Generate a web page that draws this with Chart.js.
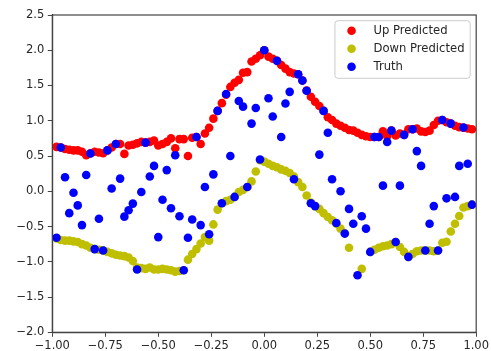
<!DOCTYPE html>
<html>
<head>
<meta charset="utf-8">
<script src="https://cdn.jsdelivr.net/npm/chart.js@4/dist/chart.umd.min.js"></script>
<style>
  html, body { margin: 0; padding: 0; background: #ffffff; }
  canvas { display: block; }
</style>
</head>
<body>
<canvas id="chart" width="491" height="351"></canvas>
<script>
// Sample positions shared by all three series
const xValues = [
  -0.98, -0.96, -0.94, -0.92, -0.90, -0.88, -0.86, -0.84, -0.82, -0.80,
  -0.78, -0.76, -0.74, -0.72, -0.70, -0.68, -0.66, -0.64, -0.62, -0.60,
  -0.58, -0.56, -0.54, -0.52, -0.50, -0.48, -0.46, -0.44, -0.42, -0.40,
  -0.38, -0.36, -0.34, -0.32, -0.30, -0.28, -0.26, -0.24, -0.22, -0.20,
  -0.18, -0.16, -0.14, -0.12, -0.10, -0.08, -0.06, -0.04, -0.02, 0.00,
  0.02, 0.04, 0.06, 0.08, 0.10, 0.12, 0.14, 0.16, 0.18, 0.20,
  0.22, 0.24, 0.26, 0.28, 0.30, 0.32, 0.34, 0.36, 0.38, 0.40,
  0.42, 0.44, 0.46, 0.48, 0.50, 0.52, 0.54, 0.56, 0.58, 0.60,
  0.62, 0.64, 0.66, 0.68, 0.70, 0.72, 0.74, 0.76, 0.78, 0.80,
  0.82, 0.84, 0.86, 0.88, 0.90, 0.92, 0.94, 0.96, 0.98
];

// Upper branch of the model prediction
const upPredicted = [
  0.63, 0.62, 0.60, 0.59, 0.58, 0.58, 0.56, 0.51, 0.54, 0.56,
  0.55, 0.54, 0.58, 0.62, 0.67, 0.67, 0.53, 0.65, 0.66, 0.68,
  0.70, 0.69, 0.70, 0.72, 0.65, 0.67, 0.70, 0.75, 0.61, 0.74,
  0.74, 0.50, 0.76, 0.77, 0.67, 0.82, 0.90, 1.03, 1.14, 1.25,
  1.37, 1.48, 1.54, 1.58, 1.68, 1.69, 1.84, 1.88, 1.93, 2.00,
  1.91, 1.88, 1.85, 1.79, 1.74, 1.69, 1.67, 1.66, 1.57, 1.43,
  1.34, 1.27, 1.21, 1.14, 1.05, 1.01, 0.96, 0.93, 0.90, 0.87,
  0.86, 0.83, 0.80, 0.78, 0.77, 0.77, 0.77, 0.85, 0.78, 0.86,
  0.79, 0.82, 0.80, 0.88, 0.88, 0.89, 0.85, 0.84, 0.86, 0.94,
  1.00, 1.01, 0.98, 0.96, 0.93, 0.91, 0.90, 0.89, 0.88
];

// Lower branch of the model prediction (null = no point)
const downPredicted = [
  -0.67, -0.69, -0.70, -0.70, -0.71, -0.72, -0.75, -0.77, -0.80, -0.82,
  -0.83, -0.84, -0.86, -0.88, -0.90, -0.91, -0.92, -0.94, -0.99, -1.08,
  -1.09, -1.10, -1.08, -1.11, -1.11, -1.10, -1.11, -1.12, -1.14, -1.13,
  -1.12, -0.97, -0.89, -0.82, -0.74, -0.65, -0.70, -0.47, -0.26, -0.17,
  -0.14, -0.12, -0.08, -0.01, 0.02, 0.06, 0.14, 0.28, 0.44, 0.42,
  0.39, 0.36, 0.34, 0.31, 0.29, 0.26, 0.21, 0.13, 0.06, -0.06,
  -0.16, -0.21, -0.25, -0.31, -0.365, -0.41, -0.46, -0.53, -0.60, -0.80,
  null, null, -1.10, null, -0.86, -0.83, -0.80, -0.78, -0.77, -0.75,
  -0.72, -0.79, -0.86, -0.93, -0.89, -0.85, -0.84, -0.84, -0.84, -0.85,
  -0.84, -0.73, -0.715, -0.57, -0.46, -0.35, -0.23, -0.21, -0.19
];

// Observed values
const truth = [
  -0.66, 0.62, 0.20, -0.31, -0.02, -0.20, -0.48, 0.23, 0.535, -0.82,
  -0.39, -0.84, 0.58, 0.04, 0.67, 0.18, -0.36, -0.27, -0.175, -1.11,
  -0.01, 0.69, 0.21, 0.36, -0.65, -0.12, 0.30, -0.24, 0.51, -0.355,
  -1.12, -0.66, -0.40, 0.77, -0.48, 0.06, -0.61, 0.24, 1.14, -0.17,
  1.38, 0.50, -0.08, 1.28, 1.20, 0.06, 0.96, 1.18, 0.45, 2.00,
  1.32, 1.06, 1.85, 0.77, 1.245, 1.41, 0.17, 1.66, 1.57, 1.425,
  -0.17, -0.21, 0.52, 1.14, 0.83, 0.17, -0.45, 0.00, -0.60, -0.25,
  -0.46, -1.19, -0.355, -0.53, -0.86, 0.77, 0.77, 0.08, 0.70, 0.86,
  -0.72, 0.08, 0.80, -0.93, 0.88, 0.57, 0.36, -0.84, -0.46, -0.21,
  -0.84, 1.01, -0.10, 0.96, -0.08, 0.36, 0.905, 0.39, -0.19
];

const seriesLabels = ['Up Predicted', 'Down Predicted', 'Truth'];

const xTicks = [-1.0, -0.75, -0.5, -0.25, 0.0, 0.25, 0.5, 0.75, 1.0];
const xTickLabels = ['\u22121.00', '\u22120.75', '\u22120.50', '\u22120.25', '0.00', '0.25', '0.50', '0.75', '1.00'];
const yTicks = [-2.0, -1.5, -1.0, -0.5, 0.0, 0.5, 1.0, 1.5, 2.0, 2.5];
const yTickLabels = ['\u22122.0', '\u22121.5', '\u22121.0', '\u22120.5', '0.0', '0.5', '1.0', '1.5', '2.0', '2.5'];

const FONT = 'DejaVu Sans';
const TEXT_COLOR = '#262626';
const SPINE_COLOR = '#444444';

function toPoints(xs, ys) {
  const pts = [];
  xs.forEach((x, i) => { if (ys[i] !== null) pts.push({ x: x, y: ys[i] }); });
  return pts;
}

// Full rectangular frame around the plotting area
const framePlugin = {
  id: 'frame',
  afterDatasetsDraw(chart) {
    const a = chart.chartArea, ctx = chart.ctx;
    ctx.save();
    ctx.strokeStyle = SPINE_COLOR;
    ctx.lineWidth = 1.2;
    ctx.strokeRect(a.left, a.top, a.right - a.left, a.bottom - a.top);
    ctx.restore();
  }
};

// Boxed legend in the upper right corner of the plotting area
const boxLegendPlugin = {
  id: 'boxLegend',
  afterDraw(chart) {
    const a = chart.chartArea, ctx = chart.ctx;
    const fontSize = 11.6;
    ctx.save();
    ctx.font = fontSize + 'px "' + FONT + '"';
    let textW = 0;
    chart.data.datasets.forEach(ds => { textW = Math.max(textW, ctx.measureText(ds.label).width); });
    const boxW = 38.6 + textW + 5.7;
    const boxH = 57.6;
    const right = a.right - 6;
    const left = right - boxW;
    const top = a.top + 5.7;
    ctx.beginPath();
    ctx.roundRect(left, top, boxW, boxH, 3);
    ctx.fillStyle = 'rgba(255,255,255,0.8)';
    ctx.fill();
    ctx.strokeStyle = '#cccccc';
    ctx.lineWidth = 1;
    ctx.stroke();
    chart.data.datasets.forEach((ds, i) => {
      const cy = top + 10 + i * 18;
      ctx.beginPath();
      ctx.arc(left + 16.6, cy, 4.3, 0, Math.PI * 2);
      ctx.fillStyle = ds.backgroundColor;
      ctx.fill();
      ctx.fillStyle = TEXT_COLOR;
      ctx.textBaseline = 'middle';
      ctx.textAlign = 'left';
      ctx.fillText(ds.label, left + 38.6, cy + 0.5);
    });
    ctx.restore();
  }
};

const pointStyle = { pointRadius: 4.3, pointHoverRadius: 4.3, borderWidth: 0, showLine: false };

new Chart(document.getElementById('chart'), {
  type: 'scatter',
  data: {
    datasets: [
      Object.assign({ label: seriesLabels[0], data: toPoints(xValues, upPredicted),
        backgroundColor: '#ff0000', borderColor: '#ff0000', order: 2 }, pointStyle),
      Object.assign({ label: seriesLabels[1], data: toPoints(xValues, downPredicted),
        backgroundColor: '#bfbf00', borderColor: '#bfbf00', order: 1 }, pointStyle),
      Object.assign({ label: seriesLabels[2], data: toPoints(xValues, truth),
        backgroundColor: '#0000ff', borderColor: '#0000ff', order: 0 }, pointStyle)
    ]
  },
  options: {
    responsive: false,
    animation: false,
    devicePixelRatio: 1,
    layout: { padding: { top: 15, right: 11.7, left: 0, bottom: 0 } },
    plugins: { legend: { display: false }, tooltip: { enabled: false } },
    scales: {
      x: {
        type: 'linear',
        min: -1, max: 1,
        afterBuildTicks: s => { s.ticks = xTicks.map(v => ({ value: v })); },
        afterFit: s => { s.height = 18.7; },
        ticks: {
          callback: (v, i) => xTickLabels[i],
          font: { family: FONT, size: 11.5 },
          color: TEXT_COLOR,
          padding: 2,
          maxRotation: 0,
          autoSkip: false
        },
        grid: { drawOnChartArea: false, drawTicks: true, tickLength: 4.5, tickColor: SPINE_COLOR, tickWidth: 1 },
        border: { display: true, color: SPINE_COLOR, width: 1.2 }
      },
      y: {
        type: 'linear',
        min: -2, max: 2.5,
        afterBuildTicks: s => { s.ticks = yTicks.map(v => ({ value: v })); },
        afterFit: s => { s.width = 52.3; },
        ticks: {
          callback: (v, i) => yTickLabels[i],
          font: { family: FONT, size: 11.5 },
          color: TEXT_COLOR,
          padding: 3.5,
          autoSkip: false
        },
        grid: { drawOnChartArea: false, drawTicks: true, tickLength: 4.5, tickColor: SPINE_COLOR, tickWidth: 1 },
        border: { display: true, color: SPINE_COLOR, width: 1.2 }
      }
    }
  },
  plugins: [framePlugin, boxLegendPlugin]
});
</script>
</body>
</html>
